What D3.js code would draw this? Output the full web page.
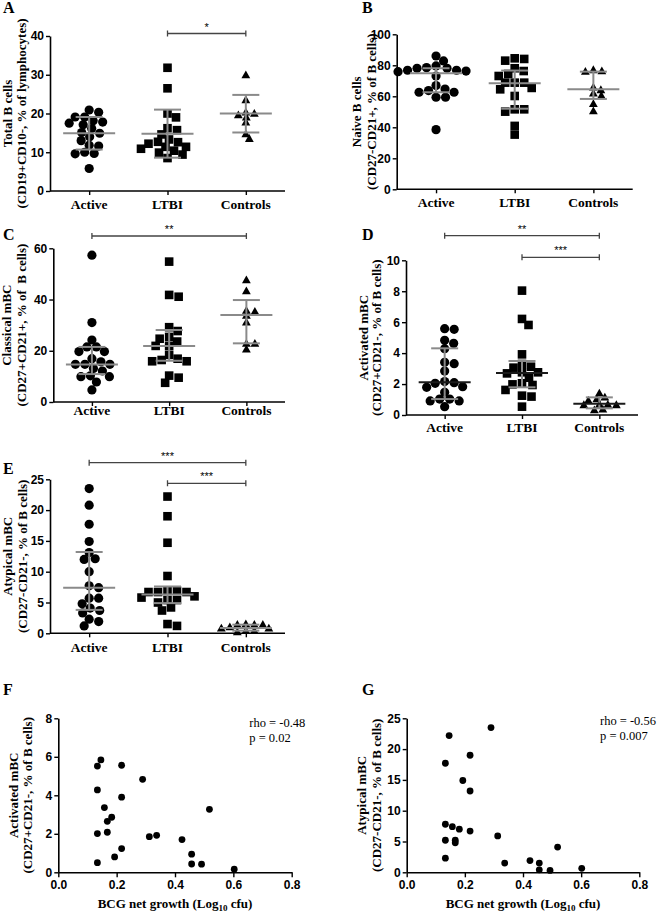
<!DOCTYPE html>
<html><head><meta charset="utf-8">
<script src="https://cdn.jsdelivr.net/npm/d3@7"></script>
<style>body{margin:0;background:#fff}text{fill:#000}</style></head>
<body><svg id="c" width="660" height="915"></svg>
<script>
const categories = ["Active", "LTBI", "Controls"];

// Panel A: Total B cells
const totalB_active = [20.3, 20.9, 18.1, 17.5, 19.1, 19.1, 17.1, 17.8, 15.1, 16.1, 14.9, 11.6, 14.0, 13.0, 11.8, 9.6, 9.7, 10.0, 5.8];
const totalB_ltbi = [31.8, 26.5, 20.0, 19.0, 16.2, 14.6, 15.7, 13.3, 12.6, 10.9, 11.4, 11.4, 12.2, 12.7, 9.9, 10.4, 9.4, 8.5];
const totalB_controls = [29.9, 23.5, 20.3, 20.0, 19.0, 19.6, 17.7, 14.7, 13.5];
const totalB_median = [14.9, 14.8, 20.0];
const totalB_q1 = [10.7, 8.6, 15.1];
const totalB_q3 = [19.1, 21.0, 24.8];

// Panel B: Naive B cells
const naive_active = [86.0, 82.8, 78.5, 78.1, 79.6, 76.3, 75.9, 73.1, 76.8, 76.8, 78.1, 64.7, 62.6, 66.9, 62.6, 63.7, 59.4, 59.4, 38.5];
const naive_ltbi = [84.1, 83.0, 84.5, 78.1, 73.1, 74.4, 76.3, 68.8, 68.8, 68.8, 65.4, 64.5, 60.2, 51.6, 50.1, 51.6, 40.9, 35.3];
const naive_controls = [77.0, 75.9, 76.3, 65.8, 64.1, 61.9, 60.4, 55.1, 50.5];
const naive_median = [74.8, 68.4, 64.5];
const naive_q1 = [62.6, 52.0, 58.3];
const naive_q3 = [78.1, 76.6, 75.9];

// Panel C: Classical mBC
const classical_active = [57.3, 31.0, 24.2, 21.5, 21.5, 16.9, 19.7, 19.7, 15.7, 12.1, 14.7, 14.7, 14.7, 13.1, 9.9, 9.9, 10.2, 7.8, 4.7];
const classical_ltbi = [54.8, 41.1, 41.8, 29.2, 27.7, 25.4, 23.6, 24.7, 21.9, 21.9, 16.9, 15.9, 15.9, 16.4, 18.4, 10.3, 9.5, 7.5];
const classical_controls = [47.6, 43.3, 33.7, 35.7, 35.3, 31.1, 22.8, 22.8, 20.6];
const classical_median = [14.6, 21.9, 34.0];
const classical_q1 = [10.9, 16.1, 22.9];
const classical_q3 = [21.5, 28.1, 39.8];

// Panel D: Activated mBC
const activated_active = [5.58, 5.54, 4.83, 4.63, 4.29, 3.32, 3.41, 2.84, 2.09, 2.16, 2.05, 1.83, 1.79, 1.47, 1.03, 0.91, 0.91, 1.03, 0.54];
const activated_ltbi = [8.04, 6.21, 5.82, 3.92, 3.30, 3.06, 3.12, 2.76, 2.69, 2.76, 2.41, 2.05, 1.94, 1.98, 1.62, 1.25, 1.19, 0.54];
const activated_controls = [1.40, 1.03, 0.93, 1.14, 0.67, 0.65, 0.67, 0.65, 0.32, 0.37];
const activated_median = [2.11, 2.72, 0.73];
const activated_q1 = [1.03, 1.79, 0.43];
const activated_q3 = [4.31, 3.49, 1.14];

// Panel E: Atypical mBC
const atypical_active = [23.5, 20.8, 17.7, 14.9, 13.1, 12.1, 12.0, 10.0, 7.7, 7.4, 4.8, 5.7, 5.7, 4.1, 3.7, 3.3, 2.3, 1.9, 1.2];
const atypical_ltbi = [22.2, 19.0, 14.7, 9.3, 6.7, 6.9, 6.9, 6.7, 6.7, 5.8, 6.0, 5.4, 5.4, 5.0, 4.2, 3.7, 1.2, 1.5];
const atypical_controls = [1.5, 1.4, 1.4, 1.4, 0.8, 1.0, 0.8, 0.4, 0.4, 0.2];
const atypical_median = [7.4, 6.3, 0.87];
const atypical_q1 = [3.8, 4.9, 0.43];
const atypical_q3 = [13.2, 7.6, 1.4];

// Panel F: BCG growth vs activated mBC
const bcgF = [0.134, 0.146, 0.134, 0.217, 0.289, 0.217, 0.158, 0.183, 0.168, 0.134, 0.168, 0.518, 0.312, 0.337, 0.424, 0.217, 0.193, 0.134, 0.457, 0.457, 0.491, 0.603];
const activatedF = [5.52, 5.84, 4.28, 5.56, 4.83, 3.90, 3.36, 2.86, 2.65, 2.01, 2.08, 3.27, 1.85, 1.92, 1.70, 1.23, 0.80, 0.50, 0.94, 0.43, 0.42, 0.16];
// Panel G: BCG growth vs atypical mBC
const bcgG = [0.146, 0.133, 0.290, 0.218, 0.193, 0.218, 0.133, 0.157, 0.181, 0.218, 0.313, 0.133, 0.167, 0.167, 0.133, 0.519, 0.337, 0.424, 0.456, 0.456, 0.493, 0.602];
const atypicalG = [22.2, 17.7, 23.5, 19.0, 14.9, 13.2, 7.8, 7.4, 7.0, 6.7, 5.9, 5.2, 5.2, 4.8, 2.3, 4.1, 1.5, 1.9, 1.5, 0.4, 0.3, 0.65];

const ticksA = [0, 10, 20, 30, 40];
const ticksB = [0, 20, 40, 60, 80, 100];
const ticksC = [0, 20, 40, 60];
const ticksD = [0, 2, 4, 6, 8, 10];
const ticksE = [0, 5, 10, 15, 20, 25];
const ticksXFG = [0, 0.2, 0.4, 0.6, 0.8];
const ticksYF = [0, 2, 4, 6, 8];
const ticksYG = [0, 5, 10, 15, 20, 25];

const svg = d3.select("#c");
const SERIF = "'Liberation Serif', 'DejaVu Serif', serif";
const SANS = "'Liberation Sans', Arial, sans-serif";
const GRAY = "#8a8a8a";

function letter(t, x, y) {
  svg.append("text").attr("x", x).attr("y", y).text(t)
    .style("font-family", SERIF).style("font-weight", "bold").style("font-size", "16px");
}
function yTitle(l1, l2, x1, x2, cy) {
  [[l1, x1], [l2, x2]].forEach(([t, x]) => {
    svg.append("text").attr("transform", `translate(${x},${cy}) rotate(-90)`)
      .attr("text-anchor", "middle").attr("dy", "0.35em").text(t)
      .style("font-family", SERIF).style("font-weight", "bold").style("font-size", "13px")
      .style("white-space", "pre");
  });
}
function styleAxis(g) {
  g.select(".domain").attr("stroke", "#000").attr("stroke-width", 1.6);
  g.selectAll(".tick line").attr("stroke", "#000").attr("stroke-width", 1.4);
  g.selectAll(".tick text").style("font-family", SANS).style("font-weight", "bold").style("font-size", "12px").attr("fill", "#000");
}
// column-scatter layout: points that lie close vertically are spread sideways
function swarm(vals, y, dX, dY) {
  const order = vals.map((v, i) => i).sort((a, b) => vals[b] - vals[a]);
  const placed = [], offs = new Array(vals.length);
  for (const i of order) {
    const py = y(vals[i]);
    let chosen = 0;
    for (let k = 0; k < 400; k++) {
      const o = (k % 2 ? 1 : -1) * Math.ceil(k / 2) * 0.5;
      const ok = placed.every(p => ((p.x - o) / dX) ** 2 + ((p.y - py) / dY) ** 2 >= 1);
      if (ok) { chosen = o; break; }
    }
    placed.push({ x: chosen, y: py });
    offs[i] = chosen;
  }
  return offs;
}
function marker(g, shape, cx, cy) {
  if (shape === 0) g.append("circle").attr("cx", cx).attr("cy", cy).attr("r", 4.6).attr("fill", "#000");
  else if (shape === 1) g.append("rect").attr("x", cx - 4.3).attr("y", cy - 4.3).attr("width", 8.6).attr("height", 8.6).attr("fill", "#000");
  else g.append("path").attr("d", `M${cx},${cy - 4.6}L${cx + 4.4},${cy + 3.2}L${cx - 4.4},${cy + 3.2}Z`).attr("fill", "#000");
}
const swarmGapX = [9.5, 9.5, 8.5];
const swarmGapY = [7.8, 7.8, 5];

function catPanel(p) {
  const y = d3.scaleLinear().domain([0, p.yMax]).range([p.y0, p.y1]);
  const x = d3.scalePoint().domain(categories).range([p.left, p.right]).padding(0.5);
  const gy = svg.append("g").attr("transform", `translate(${p.left},0)`)
    .call(d3.axisLeft(y).tickValues(p.ticks).tickSize(4).tickPadding(2).tickSizeOuter(0));
  styleAxis(gy);
  const gx = svg.append("g").attr("transform", `translate(0,${p.y0})`)
    .call(d3.axisBottom(x).tickSize(4).tickSizeOuter(0).tickFormat(""));
  gx.select(".domain").attr("d", `M${p.left},0H${p.right}`);
  styleAxis(gx);
  categories.forEach(c => {
    svg.append("text").attr("x", x(c)).attr("y", p.y0 + p.labOff).attr("text-anchor", "middle").text(c)
      .style("font-family", SERIF).style("font-weight", "bold").style("font-size", "13.5px");
  });
  const g = svg.append("g");
  p.groups.forEach((vals, gi) => {
    const offs = swarm(vals, y, swarmGapX[gi], swarmGapY[gi]);
    vals.forEach((v, i) => marker(g, gi, x(categories[gi]) + offs[i], y(v)));
  });
  const s = svg.append("g");
  categories.forEach((c, i) => {
    const cx = x(c);
    s.append("line").attr("x1", cx).attr("x2", cx).attr("y1", y(p.q1[i])).attr("y2", y(p.q3[i])).attr("stroke", GRAY).attr("stroke-width", 2);
    [p.q1[i], p.q3[i]].forEach(q => s.append("line").attr("x1", cx - 13.5).attr("x2", cx + 13.5).attr("y1", y(q)).attr("y2", y(q)).attr("stroke", GRAY).attr("stroke-width", 2));
    s.append("line").attr("x1", cx - 26).attr("x2", cx + 26).attr("y1", y(p.median[i])).attr("y2", y(p.median[i])).attr("stroke", p.medColor || GRAY).attr("stroke-width", 2);
  });
  (p.sig || []).forEach(b => {
    const x1 = x(categories[b.from]), x2 = x(categories[b.to]);
    s.append("path").attr("d", `M${x1},${b.y - 3}V${b.y + 3}M${x1},${b.y}H${x2}M${x2},${b.y - 3}V${b.y + 3}`)
      .attr("stroke", "#444").attr("stroke-width", 1.3).attr("fill", "none");
    s.append("text").attr("x", (x1 + x2) / 2).attr("y", b.y - 3).attr("text-anchor", "middle").text(b.label)
      .style("font-family", SANS).style("font-size", "11px").attr("fill", "#333");
  });
  yTitle(p.t1, p.t2, p.tx1, p.tx2, (p.y0 + p.y1) / 2);
}

catPanel({ left: 50, right: 285, y0: 191, y1: 36, yMax: 40, ticks: ticksA, labOff: 18,
  groups: [totalB_active, totalB_ltbi, totalB_controls], median: totalB_median, q1: totalB_q1, q3: totalB_q3,
  sig: [{ from: 1, to: 2, y: 33.5, label: "*" }],
  t1: "Total B cells", t2: "(CD19+CD10-, % of lymphocytes)", tx1: 7.5, tx2: 21.5 });
catPanel({ left: 396.7, right: 632.7, y0: 189.3, y1: 34.3, yMax: 100, ticks: ticksB, labOff: 17.5,
  groups: [naive_active, naive_ltbi, naive_controls], median: naive_median, q1: naive_q1, q3: naive_q3,
  t1: "Naive B cells", t2: "(CD27-CD21+, % of B cells)", tx1: 356.7, tx2: 371.2 });
catPanel({ left: 53.3, right: 285, y0: 402, y1: 248.3, yMax: 60, ticks: ticksC, labOff: 12.5,
  groups: [classical_active, classical_ltbi, classical_controls], median: classical_median, q1: classical_q1, q3: classical_q3,
  sig: [{ from: 0, to: 2, y: 236, label: "**" }],
  t1: "Classical mBC", t2: "(CD27+CD21+, % of  B cells)", tx1: 6.7, tx2: 21.7 });
catPanel({ left: 406, right: 638, y0: 415, y1: 260.3, yMax: 10, ticks: ticksD, labOff: 17,
  groups: [activated_active, activated_ltbi, activated_controls], median: activated_median, q1: activated_q1, q3: activated_q3,
  medColor: "#1a1a1a",
  sig: [{ from: 0, to: 2, y: 235.7, label: "**" }, { from: 1, to: 2, y: 257.3, label: "***" }],
  t1: "Activated mBC", t2: "(CD27+CD21-, % of B cells)", tx1: 363, tx2: 376.7 });
catPanel({ left: 50, right: 285, y0: 633.3, y1: 479.3, yMax: 25, ticks: ticksE, labOff: 18.5,
  groups: [atypical_active, atypical_ltbi, atypical_controls], median: atypical_median, q1: atypical_q1, q3: atypical_q3,
  sig: [{ from: 0, to: 2, y: 462.7, label: "***" }, { from: 1, to: 2, y: 483.3, label: "***" }],
  t1: "Atypical mBC", t2: "(CD27-CD21-, % of B cells)", tx1: 7.3, tx2: 22.3 });

function scatterPanel(p) {
  const x = d3.scaleLinear().domain([0, 0.8]).range([p.left, p.right]);
  const y = d3.scaleLinear().domain([0, p.yMax]).range([p.y0, p.y1]);
  const gy = svg.append("g").attr("transform", `translate(${p.left},0)`)
    .call(d3.axisLeft(y).tickValues(p.yTicks).tickSize(4).tickPadding(2).tickSizeOuter(0));
  styleAxis(gy);
  const gx = svg.append("g").attr("transform", `translate(0,${p.y0})`)
    .call(d3.axisBottom(x).tickValues(ticksXFG).tickFormat(d3.format(".1f")).tickSize(5).tickPadding(3).tickSizeOuter(0));
  styleAxis(gx);
  p.xs.forEach((xv, i) => svg.append("circle").attr("cx", x(xv)).attr("cy", y(p.ys[i])).attr("r", 3.4).attr("fill", "#000"));
  const lab = svg.append("text").attr("x", (p.left + p.right) / 2).attr("y", p.y0 + 36).attr("text-anchor", "middle")
    .style("font-family", SERIF).style("font-weight", "bold").style("font-size", "13px");
  lab.append("tspan").text("BCG net growth (Log");
  lab.append("tspan").attr("dy", 3).style("font-size", "9px").text("10");
  lab.append("tspan").attr("dy", -3).text(" cfu)");
  p.stats.forEach((t, i) => svg.append("text").attr("x", p.sx).attr("y", p.sy + i * 15).text(t)
    .style("font-family", SERIF).style("font-size", "12.5px"));
  yTitle(p.t1, p.t2, p.tx1, p.tx2, (p.y0 + p.y1) / 2);
}
scatterPanel({ left: 58.3, right: 291.7, y0: 872.3, y1: 718.3, yMax: 8, yTicks: ticksYF, xs: bcgF, ys: activatedF,
  stats: ["rho = -0.48", "p = 0.02"], sx: 249.3, sy: 727,
  t1: "Activated mBC", t2: "(CD27+CD21-, % of B cells)", tx1: 13.3, tx2: 27 });
scatterPanel({ left: 406.7, right: 639.3, y0: 872.3, y1: 718.3, yMax: 25, yTicks: ticksYG, xs: bcgG, ys: atypicalG,
  stats: ["rho = -0.56", "p = 0.007"], sx: 600, sy: 725,
  t1: "Atypical mBC", t2: "(CD27-CD21-, % of B cells)", tx1: 361.7, tx2: 376.7 });

letter("A", 3, 13); letter("B", 362, 13); letter("C", 3, 240); letter("D", 362, 240);
letter("E", 3, 474); letter("F", 3, 695); letter("G", 362, 695);
</script></body></html>
